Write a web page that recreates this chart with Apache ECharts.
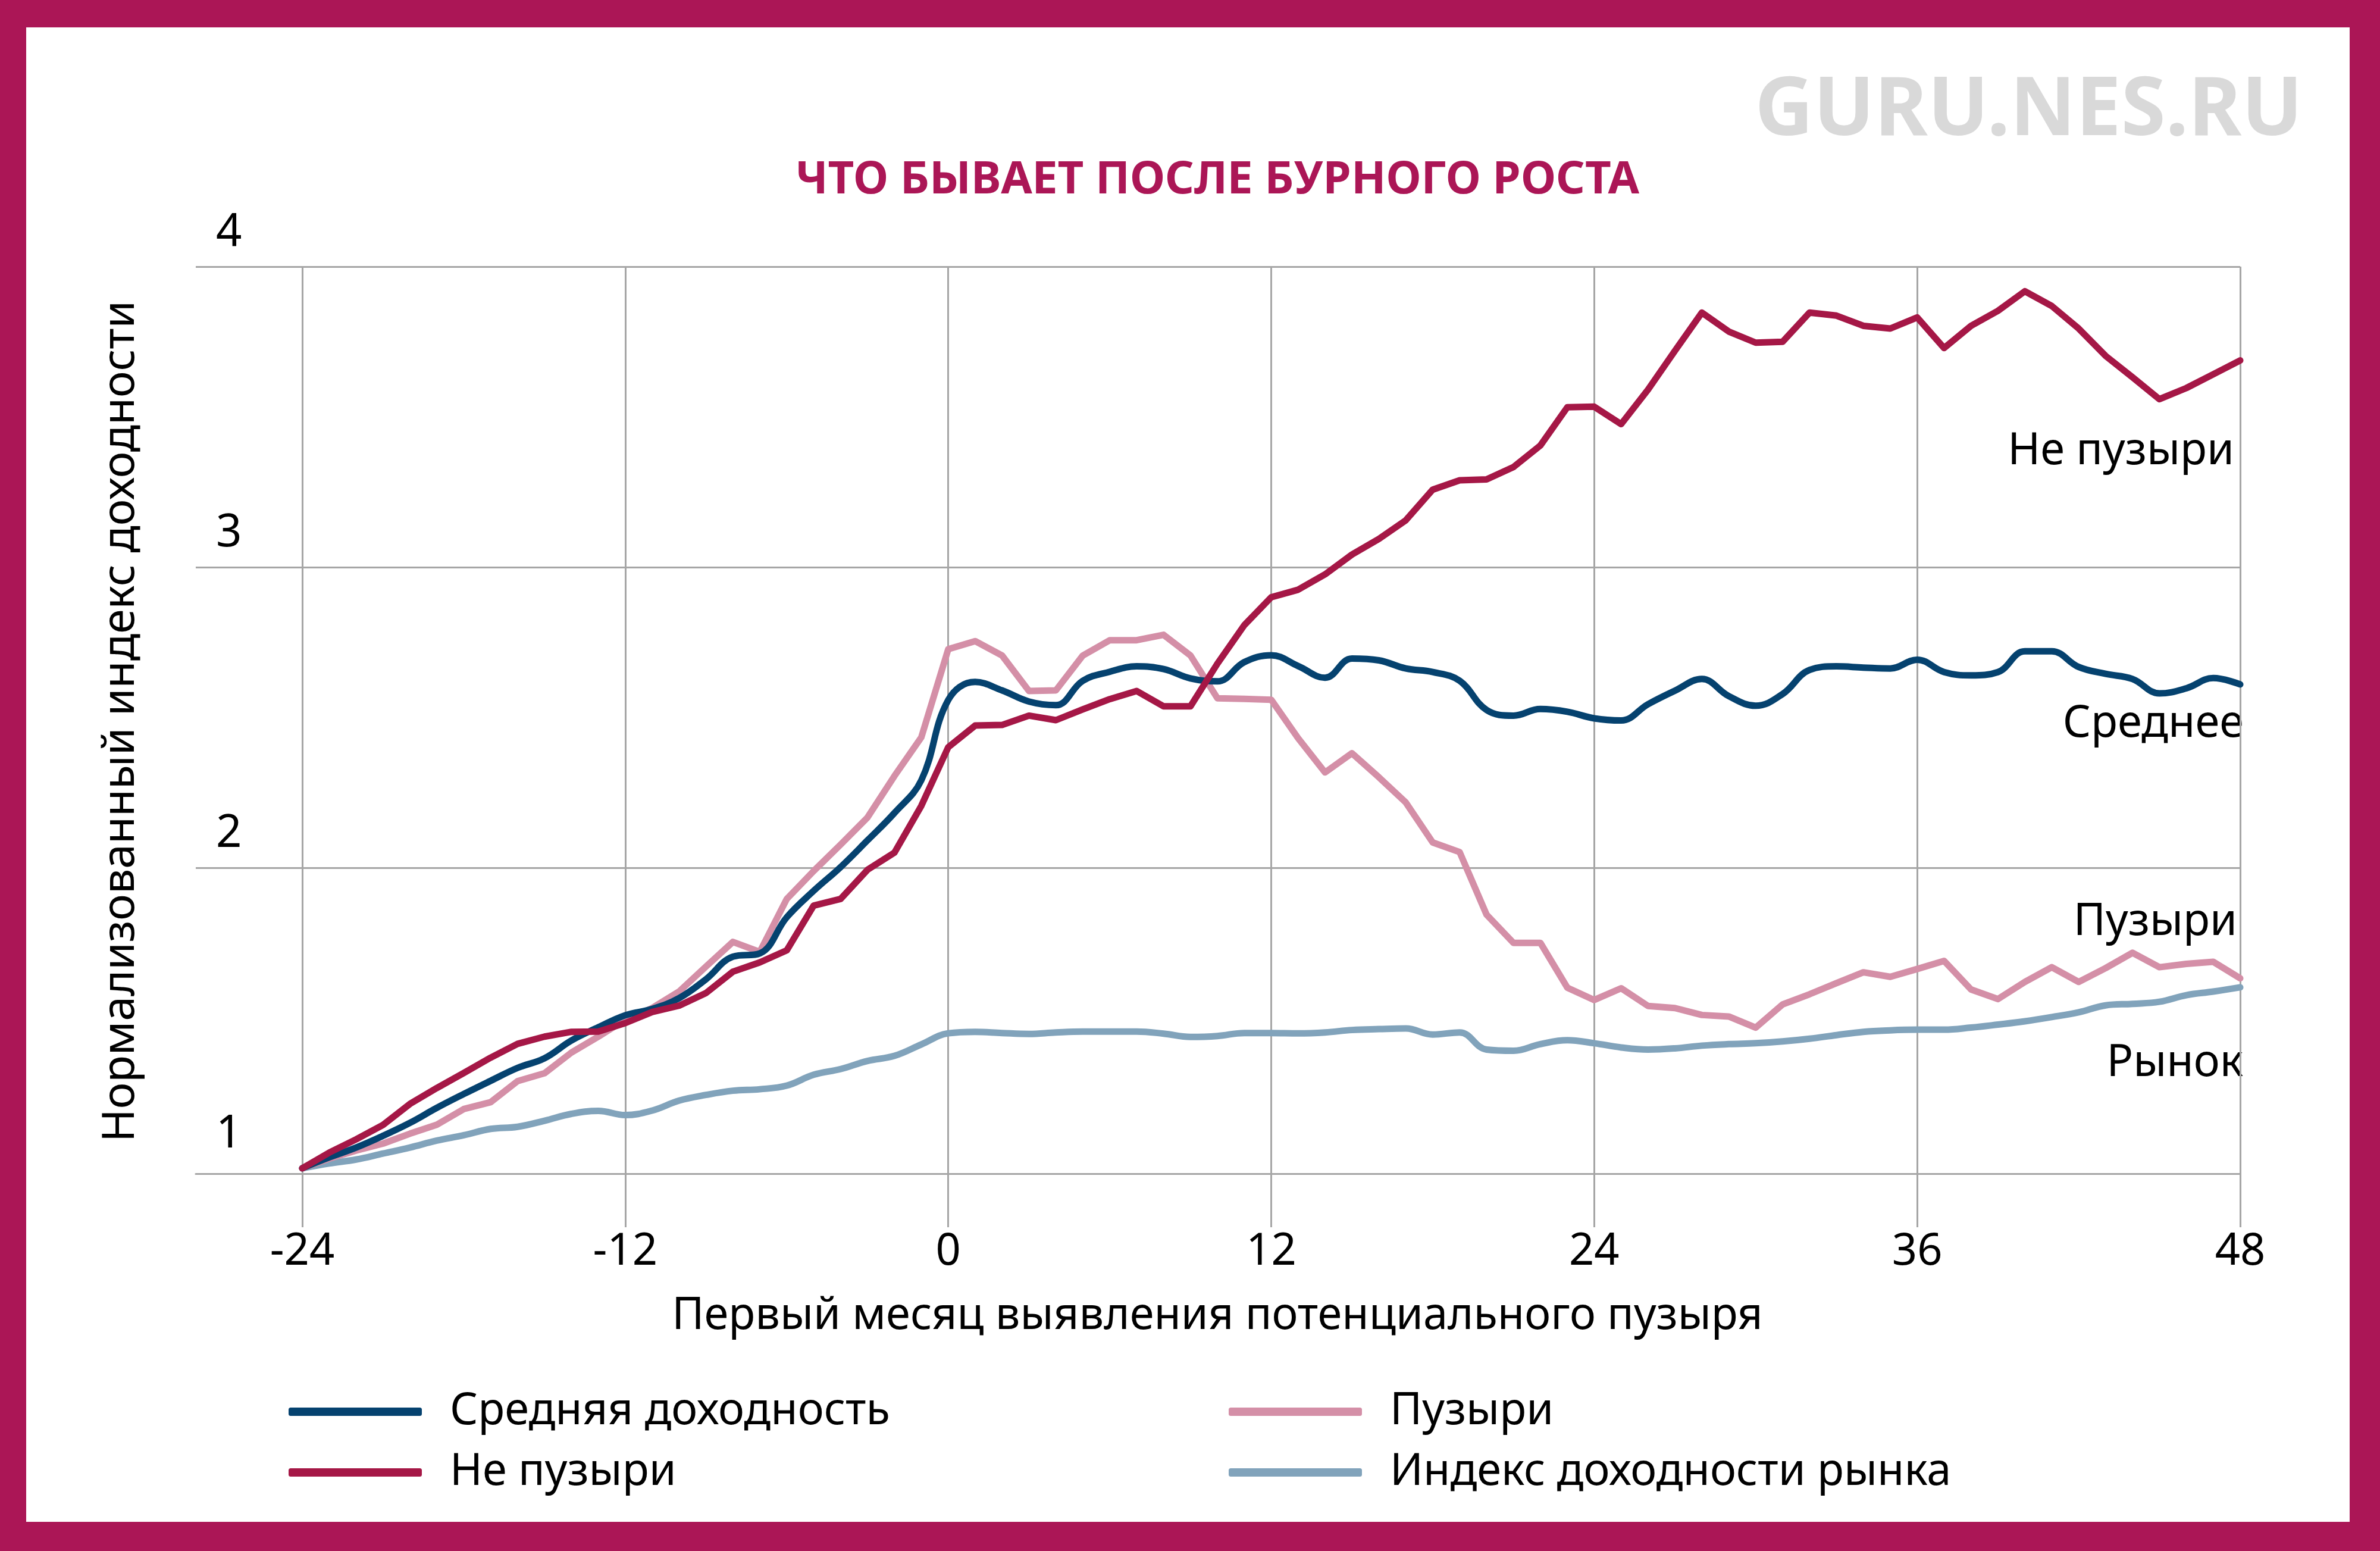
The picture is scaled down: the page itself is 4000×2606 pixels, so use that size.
<!DOCTYPE html>
<html><head><meta charset="utf-8">
<script src="https://cdn.jsdelivr.net/npm/echarts@6/dist/echarts.min.js"></script>
<style>
html,body{margin:0;padding:0;width:4000px;height:2606px;background:#AB1656;overflow:hidden}
#panel{position:absolute;left:44px;top:46px;width:3905px;height:2511px;background:#fff}
#chart{position:absolute;left:0;top:0;width:4000px;height:2606px}
</style></head><body>
<div id="panel"></div><div id="chart"></div>
<script>
// ---- data (months since first identification of a potential bubble) ----
const months = [-24,-23,-22,-21,-20,-19,-18,-17,-16,-15,-14,-13,-12,
  -11,-10,-9,-8,-7,-6,-5,-4,-3,-2,-1,0,
  1,2,3,4,5,6,7,8,9,10,11,12,
  13,14,15,16,17,18,19,20,21,22,23,24,
  25,26,27,28,29,30,31,32,33,34,35,36,
  37,38,39,40,41,42,43,44,45,46,47,48];
const xTicks = [-24,-12,0,12,24,36,48];
const yTickLabels = [1,2,3,4];
const yGridValues = [2,3,4];

const avgReturn = [1.00,1.036,1.069,1.108,1.151,1.201,1.247,1.291,1.334,1.366,1.425,1.469,1.509,
  1.530,1.566,1.629,1.704,1.715,1.835,1.923,2.002,2.091,2.182,2.291,2.558,
  2.618,2.590,2.553,2.541,2.622,2.652,2.670,2.661,2.630,2.620,2.684,2.707,
  2.671,2.632,2.696,2.690,2.663,2.651,2.622,2.525,2.506,2.528,2.519,2.497,
  2.490,2.544,2.589,2.628,2.571,2.539,2.578,2.658,2.670,2.666,2.663,2.692,
  2.651,2.640,2.651,2.720,2.720,2.668,2.645,2.628,2.580,2.597,2.631,2.610];
const nonBubbles = [1.00,1.052,1.096,1.144,1.214,1.267,1.317,1.368,1.414,1.438,1.454,1.455,1.483,
  1.520,1.541,1.583,1.654,1.685,1.725,1.874,1.896,1.993,2.050,2.206,2.401,
  2.473,2.475,2.506,2.491,2.527,2.561,2.588,2.537,2.537,2.679,2.807,2.900,
  2.925,2.976,3.042,3.094,3.156,3.258,3.289,3.292,3.333,3.405,3.532,3.534,
  3.476,3.591,3.720,3.847,3.784,3.747,3.750,3.847,3.837,3.803,3.794,3.831,
  3.729,3.803,3.853,3.918,3.869,3.794,3.703,3.632,3.559,3.596,3.642,3.688];
const bubbles = [1.00,1.032,1.059,1.082,1.115,1.145,1.197,1.220,1.290,1.316,1.385,1.438,1.494,
  1.533,1.588,1.671,1.753,1.720,1.896,1.989,2.077,2.167,2.305,2.434,2.727,
  2.754,2.706,2.588,2.590,2.706,2.757,2.757,2.775,2.706,2.564,2.562,2.559,
  2.431,2.317,2.381,2.301,2.217,2.084,2.052,1.844,1.750,1.750,1.601,1.560,
  1.599,1.540,1.533,1.510,1.505,1.468,1.545,1.579,1.616,1.652,1.637,1.663,
  1.690,1.595,1.563,1.620,1.669,1.620,1.666,1.717,1.669,1.680,1.687,1.632];
const market = [1.00,1.016,1.029,1.049,1.069,1.092,1.110,1.131,1.138,1.158,1.181,1.191,1.177,
  1.192,1.225,1.244,1.258,1.263,1.275,1.311,1.330,1.357,1.374,1.412,1.449,
  1.454,1.450,1.447,1.452,1.455,1.455,1.455,1.448,1.437,1.440,1.450,1.450,
  1.449,1.452,1.460,1.463,1.465,1.445,1.452,1.395,1.391,1.413,1.426,1.416,
  1.402,1.395,1.399,1.408,1.413,1.416,1.422,1.431,1.443,1.454,1.459,1.461,
  1.461,1.468,1.478,1.489,1.503,1.519,1.542,1.547,1.554,1.576,1.588,1.602];

const seriesNames = ['Средняя доходность','Не пузыри','Пузыри','Индекс доходности рынка'];
const endLabels = ['Не пузыри','Среднее','Пузыри','Рынок'];
const titleText = 'ЧТО БЫВАЕТ ПОСЛЕ БУРНОГО РОСТА';
const watermarkText = 'GURU.NES.RU';
const yAxisTitle = 'Нормализованный индекс доходности';
const xAxisTitle = 'Первый месяц выявления потенциального пузыря';

// ---- styling ----
const FONT = '"Noto Sans", sans-serif';
const C_AVG = '#05426F', C_NON = '#A51746', C_BUB = '#D48FA7', C_MKT = '#81A3BB';
const C_GRID = '#A6A6A6', C_TITLE = '#AB1656';
const Y_MIN = 0.982, Y_MAX = 4;
const pair = arr => months.map((m, i) => [m, arr[i]]);

const chart = echarts.init(document.getElementById('chart'), null, {renderer: 'canvas'});
const lineSeries = (name, arr, color, smooth) => ({
  name, type: 'line', xAxisIndex: 1, yAxisIndex: 1, data: pair(arr),
  smooth: smooth, symbol: 'none', showSymbol: false,
  lineStyle: {color, width: 11, cap: 'round', join: 'round'},
  itemStyle: {color}
});
const legendCommon = {
  orient: 'vertical', top: 2330, itemWidth: 224, itemHeight: 14, itemGap: 28,
  icon: 'roundRect', selectedMode: false,
  textStyle: {fontSize: 74, color: '#000', fontFamily: FONT, lineHeight: 74, padding: [0, 0, 0, 42]}
};
const txt = (text, x, y, size, align, opts = {}) => ({
  type: 'text', x, y, rotation: opts.rotation || 0, silent: true,
  style: {text, fill: opts.color || '#000', fontSize: size, fontFamily: FONT,
    fontWeight: opts.bold ? 'bold' : 'normal', align, verticalAlign: 'middle'}
});

chart.setOption({
  animation: false,
  textStyle: {fontFamily: FONT},
  grid: [
    {left: 329, right: 235, top: 448, bottom: 634},
    {left: 508, right: 235, top: 448, bottom: 634}
  ],
  xAxis: [
    {gridIndex: 0, type: 'value', min: 0, max: 1,
      axisLine: {show: true, lineStyle: {color: C_GRID, width: 3}},
      axisTick: {show: false}, axisLabel: {show: false}, splitLine: {show: false}},
    {gridIndex: 1, type: 'value', min: -24, max: 48, interval: 12,
      axisLine: {show: false},
      axisTick: {show: true, length: 90, lineStyle: {color: C_GRID, width: 3}},
      axisLabel: {margin: 95, fontSize: 74, color: '#000', fontFamily: FONT, showMinLabel: true, showMaxLabel: true,
        customValues: xTicks},
      splitLine: {show: true, lineStyle: {color: C_GRID, width: 3}}}
  ],
  yAxis: [
    {gridIndex: 0, type: 'value', min: Y_MIN, max: Y_MAX,
      axisLine: {show: false},
      axisTick: {show: false, customValues: yGridValues},
      splitLine: {show: true, lineStyle: {color: C_GRID, width: 3}},
      axisLabel: {customValues: yTickLabels, inside: true, margin: 34, align: 'left', verticalAlign: 'bottom',
        lineHeight: 114, fontSize: 76, color: '#000', fontFamily: FONT}},
    {gridIndex: 1, type: 'value', min: Y_MIN, max: Y_MAX, show: false}
  ],
  legend: [
    Object.assign({}, legendCommon, {left: 480, data: [seriesNames[0], seriesNames[1]]}),
    Object.assign({}, legendCommon, {left: 2060, data: [seriesNames[2], seriesNames[3]]})
  ],
  series: [
    lineSeries(seriesNames[3], market, C_MKT, 0.4),
    lineSeries(seriesNames[2], bubbles, C_BUB, false),
    lineSeries(seriesNames[0], avgReturn, C_AVG, 0.4),
    lineSeries(seriesNames[1], nonBubbles, C_NON, false)
  ],
  graphic: [
    txt(watermarkText, 3870, 188, 136, 'right', {bold: true, color: '#D9D9D9'}),
    txt(titleText, 2046, 303, 76, 'center', {bold: true, color: C_TITLE}),
    txt(yAxisTitle, 204, 1212, 75, 'center', {rotation: Math.PI / 2}),
    txt(xAxisTitle, 2046, 2212, 74, 'center'),
    txt(endLabels[0], 3755, 759, 74, 'right'),
    txt(endLabels[1], 3771, 1217, 74, 'right'),
    txt(endLabels[2], 3760, 1550, 74, 'right'),
    txt(endLabels[3], 3770, 1787, 74, 'right')
  ]
});
</script>
</body></html>
